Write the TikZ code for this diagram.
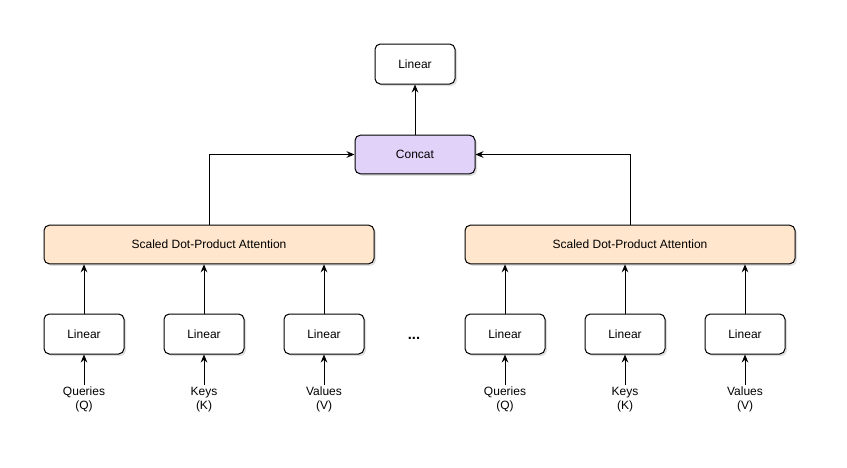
\documentclass[tikz,border=0pt]{standalone}
\usepackage{fontspec}
\setmainfont{Liberation Sans}
\usetikzlibrary{arrows.meta,shadows}

\definecolor{concatfill}{RGB}{225,210,250}
\definecolor{attnfill}{RGB}{255,230,204}

\tikzset{
  block/.style={draw, line width=0.75pt, rounded corners=4pt, fill=white,
    minimum width=60pt, minimum height=30pt, inner sep=0pt,
    font=\fontsize{9}{11}\selectfont,
    drop shadow={opacity=0.25, shadow xshift=1.5pt, shadow yshift=-1.5pt}},
  attn/.style={block, fill=attnfill, minimum width=247.5pt, minimum height=29pt},
  inlabel/.style={align=center, inner sep=1pt, font=\fontsize{9}{11}\selectfont},
  flow/.style={-{Stealth[length=6pt,width=5pt,inset=2pt]}, line width=0.75pt},
}

\begin{document}
\begin{tikzpicture}[x=0.75pt,y=0.75pt,yscale=-1]
\useasboundingbox (0,0) rectangle (847,468);

% top of the network
\node[block] (outlin) at (415,64) {Linear};
\node[block, fill=concatfill, minimum width=90pt, minimum height=29pt] (concat) at (415,154.5) {Concat};

% left head
\node[attn] (attnL) at (209,244.5) {Scaled Dot-Product Attention};
\node[block] (linQL) at (84,334) {Linear};
\node[block] (linKL) at (204,334) {Linear};
\node[block] (linVL) at (324,334) {Linear};
\node[inlabel] (inQL) at (84,399.5) {Queries\\(Q)};
\node[inlabel] (inKL) at (204,399.5) {Keys\\(K)};
\node[inlabel] (inVL) at (324,399.5) {Values\\(V)};

% right head
\node[attn] (attnR) at (630,244.5) {Scaled Dot-Product Attention};
\node[block] (linQR) at (505,334) {Linear};
\node[block] (linKR) at (625,334) {Linear};
\node[block] (linVR) at (745,334) {Linear};
\node[inlabel] (inQR) at (505,399.5) {Queries\\(Q)};
\node[inlabel] (inKR) at (625,399.5) {Keys\\(K)};
\node[inlabel] (inVR) at (745,399.5) {Values\\(V)};

% dots between the heads
\node[font=\fontsize{11}{12}\selectfont\bfseries] (dots) at (414,338) {...};

% connectors
\foreach \s in {L,R}{
  \foreach \v in {Q,K,V}{
    \draw[flow] (in\v\s.north) -- (lin\v\s.south);
  }
}
\draw[flow] (linQL.north) -- (linQL.north |- attnL.south);
\draw[flow] (linKL.north) -- (linKL.north |- attnL.south);
\draw[flow] (linVL.north) -- (linVL.north |- attnL.south);
\draw[flow] (linQR.north) -- (linQR.north |- attnR.south);
\draw[flow] (linKR.north) -- (linKR.north |- attnR.south);
\draw[flow] (linVR.north) -- (linVR.north |- attnR.south);

\draw[flow] (attnL.north) |- (concat.west);
\draw[flow] (attnR.north) |- (concat.east);
\draw[flow] (concat.north) -- (outlin.south);

\end{tikzpicture}
\end{document}
